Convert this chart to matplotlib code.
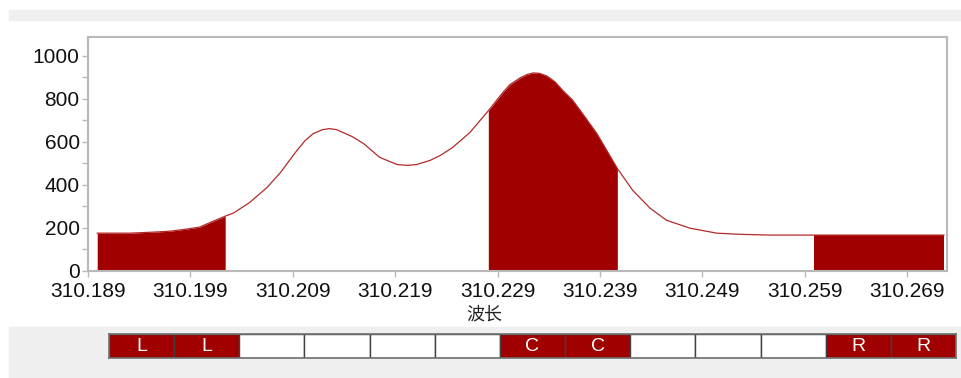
import numpy as np
import matplotlib
matplotlib.use("Agg")
import matplotlib.pyplot as plt
from matplotlib.patches import Rectangle
from matplotlib.ticker import MultipleLocator, FixedLocator

plt.rcParams['font.family'] = ['Liberation Sans', 'Noto Sans CJK SC', 'DejaVu Sans']

# --- spectrum profile (wavelength, intensity)
wavelength = [310.1899, 310.1931, 310.1955, 310.1970, 310.1985, 310.1999,
              310.2012, 310.2024, 310.2032, 310.2048, 310.2065, 310.2078,
              310.2094, 310.2102, 310.2110, 310.2119, 310.2126, 310.2133,
              310.2139, 310.2148, 310.2159, 310.2175, 310.2192, 310.2202,
              310.2211, 310.2224, 310.2234, 310.2246, 310.2263, 310.2281,
              310.2295, 310.2302, 310.2312, 310.2319, 310.2325, 310.2331,
              310.2338, 310.2346, 310.2354, 310.2363, 310.2371, 310.2387,
              310.2407, 310.2422, 310.2439, 310.2455, 310.2478, 310.2504,
              310.2524, 310.2556, 310.2599, 310.2634, 310.2683, 310.2726]
intensity = [176, 176, 181, 185, 194, 204,
             231, 255, 269, 319, 389, 458,
             560, 606, 639, 657, 662, 657,
             644, 625, 593, 528, 495, 491,
             495, 514, 537, 574, 644, 745,
             829, 866, 898, 914, 921, 919,
             907, 880, 838, 796, 745, 639,
             477, 375, 292, 236, 199, 176,
             171, 167, 167, 167, 167, 167]

# integration windows: left background, centre line, right background
band_lo = [310.1899, 310.2281, 310.2599]
band_hi = [310.2024, 310.2407, 310.2726]

x_ticks = [310.189, 310.199, 310.209, 310.219, 310.229, 310.239,
           310.249, 310.259, 310.269]
y_ticks = [0, 200, 400, 600, 800, 1000]

cell_labels = ['L', 'L', '', '', '', '', 'C', 'C', '', '', '', 'R', 'R']

DARK_RED = '#a00000'
LINE_RED = '#b22a2a'
GRID_GREY = '#b8b8b8'
PANEL_GREY = '#efefef'

W, H = 962, 378
fig = plt.figure(figsize=(W / 100, H / 100), dpi=100)
fig.patch.set_facecolor('white')


def fx(px):
    return px / W


def fy(py):
    return 1 - py / H


# top header strip and bottom panel (kept behind the axes)
fig.patches.append(Rectangle((fx(9), fy(20)), fx(953), 10 / H,
                             transform=fig.transFigure, color=PANEL_GREY, zorder=-5))
fig.patches.append(Rectangle((fx(9), fy(378)), fx(953), 51 / H,
                             transform=fig.transFigure, color=PANEL_GREY, zorder=-5))

ax = fig.add_axes([fx(88), fy(271), fx(947 - 88), (271 - 37) / H])
wl = np.array(wavelength)
it = np.array(intensity)
for lo, hi in zip(band_lo, band_hi):
    m = (wl >= lo - 1e-9) & (wl <= hi + 1e-9)
    ax.fill_between(wl[m], 0, it[m], color=DARK_RED, lw=0, zorder=2)
ax.plot(wl, it, color=LINE_RED, lw=0.9, zorder=3)

ax.set_xlim(310.189, 310.2729)
ax.set_ylim(0, 1088)
ax.xaxis.set_major_locator(FixedLocator(x_ticks))
ax.set_xticklabels(['%.3f' % t for t in x_ticks])
ax.yaxis.set_major_locator(FixedLocator(y_ticks))
ax.yaxis.set_minor_locator(MultipleLocator(100))
ax.tick_params(axis='both', which='both', color=GRID_GREY, length=4, width=1,
               labelsize=15, labelcolor='#111111', pad=2)
ax.tick_params(axis='x', pad=4)
for s in ax.spines.values():
    s.set_color(GRID_GREY)
    s.set_linewidth(1.5)

fig.text(fx(484), fy(315), '波长', ha='center', va='center', fontsize=13,
         family=['Noto Sans CJK SC', 'DejaVu Sans'], color='#222222')

# window selection strip
cax = fig.add_axes([fx(109), fy(358), fx(956 - 109), 24 / H])
n = len(cell_labels)
colors = [DARK_RED if c else 'white' for c in cell_labels]
cax.bar(np.arange(n), np.ones(n), width=1.0, align='edge', color=colors,
        edgecolor='#404040', linewidth=1.0)
for i, c in enumerate(cell_labels):
    if c:
        cax.text(i + 0.5, 0.48, c, ha='center', va='center', color='white',
                 fontsize=14)
cax.set_xlim(0, n)
cax.set_ylim(0, 1)
cax.set_xticks([])
cax.set_yticks([])
for s in cax.spines.values():
    s.set_color('#707070')
    s.set_linewidth(1.2)

fig.savefig('out.png', dpi=100)
